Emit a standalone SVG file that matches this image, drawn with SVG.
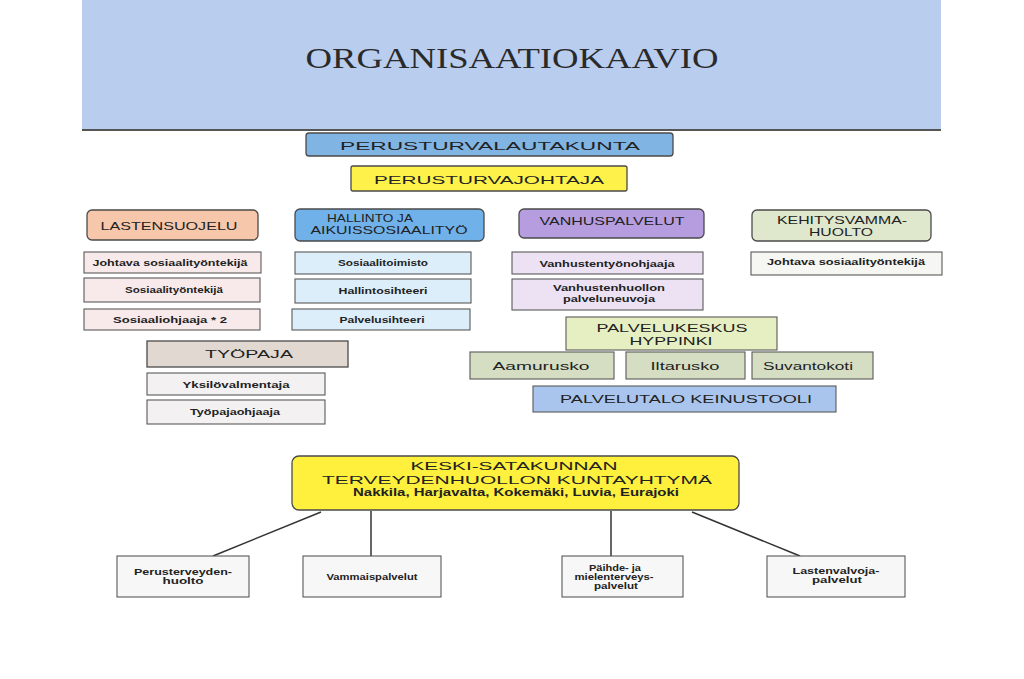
<svg xmlns="http://www.w3.org/2000/svg" width="1024" height="679" viewBox="0 0 1024 679">
<style>
  text { font-family: "Liberation Sans", Arial, sans-serif; fill: #222; text-anchor: middle; }
  .title { font-family: "Liberation Serif", "DejaVu Serif", serif; font-size: 30px; fill: #2a2a2a; }
  .h { font-size: 11.5px; }
  .s { font-size: 8.5px; font-weight: bold; }
  .b { stroke: #4a4a4a; stroke-width: 1.3; }
  .sub { stroke: #5a5a5a; stroke-width: 1.1; }
  .line { stroke: #333; stroke-width: 1.5; fill: none; }
</style>
<rect width="1024" height="679" fill="#ffffff"/>
<g id="banner">
  <rect x="82" y="0" width="859" height="130" fill="#b9cdef"/>
  <line x1="82" y1="130" x2="941" y2="130" stroke="#555" stroke-width="2"/>
  <text class="title" x="512" y="68" textLength="413" lengthAdjust="spacingAndGlyphs">ORGANISAATIOKAAVIO</text>
</g>
<g id="connectors">
  <line class="line" x1="321" y1="512" x2="213" y2="556"/>
  <line class="line" x1="371" y1="511" x2="371" y2="556"/>
  <line class="line" x1="611" y1="511" x2="611" y2="556"/>
  <line class="line" x1="692" y1="512" x2="800" y2="556"/>
</g>
<g id="perusturvalautakunta">
  <rect class="b" x="306" y="133" width="367" height="23" rx="3" fill="#80b4e2"/>
  <text class="h" x="490" y="150" textLength="300" lengthAdjust="spacingAndGlyphs">PERUSTURVALAUTAKUNTA</text>
</g>
<g id="perusturvajohtaja">
  <rect class="b" x="351" y="166" width="276" height="25" rx="2" fill="#fef24a"/>
  <text class="h" x="489" y="184" textLength="230" lengthAdjust="spacingAndGlyphs">PERUSTURVAJOHTAJA</text>
</g>
<g id="lastensuojelu">
  <rect class="b" x="87" y="210" width="171" height="30" rx="5" fill="#f6c7ab"/>
  <text class="h" x="169" y="230" textLength="137" lengthAdjust="spacingAndGlyphs">LASTENSUOJELU</text>
</g>
<g id="hallinto">
  <rect class="b" x="295" y="209" width="189" height="32" rx="5" fill="#70b1e9"/>
  <text class="h" x="370" y="222" textLength="86" lengthAdjust="spacingAndGlyphs">HALLINTO JA</text>
  <text class="h" x="389" y="234" textLength="157" lengthAdjust="spacingAndGlyphs">AIKUISSOSIAALITYÖ</text>
</g>
<g id="vanhuspalvelut">
  <rect class="b" x="519" y="209" width="185" height="29" rx="5" fill="#b69de0"/>
  <text class="h" x="612" y="225" textLength="145" lengthAdjust="spacingAndGlyphs">VANHUSPALVELUT</text>
</g>
<g id="kehitysvammahuolto">
  <rect class="b" x="752" y="210" width="179" height="31" rx="5" fill="#dfe8cd"/>
  <text class="h" x="842" y="224" textLength="130" lengthAdjust="spacingAndGlyphs">KEHITYSVAMMA-</text>
  <text class="h" x="841" y="236" textLength="64" lengthAdjust="spacingAndGlyphs">HUOLTO</text>
</g>
<g id="ls-johtava">
  <rect class="sub" x="84" y="252" width="177" height="21" fill="#f8eaea"/>
  <text class="s" x="170" y="266" textLength="155" lengthAdjust="spacingAndGlyphs">Johtava sosiaalityöntekijä</text>
</g>
<g id="ls-sosiaalityontekija">
  <rect class="sub" x="84" y="278" width="176" height="24" fill="#f8eaea"/>
  <text class="s" x="174" y="293" textLength="98" lengthAdjust="spacingAndGlyphs">Sosiaalityöntekijä</text>
</g>
<g id="ls-sosiaaliohjaaja">
  <rect class="sub" x="84" y="309" width="176" height="21" fill="#f8eaea"/>
  <text class="s" x="170" y="323" textLength="114" lengthAdjust="spacingAndGlyphs">Sosiaaliohjaaja * 2</text>
</g>
<g id="ha-sosiaalitoimisto">
  <rect class="sub" x="295" y="252" width="176" height="22" fill="#dceefa"/>
  <text class="s" x="383" y="266" textLength="90" lengthAdjust="spacingAndGlyphs">Sosiaalitoimisto</text>
</g>
<g id="ha-hallintosihteeri">
  <rect class="sub" x="295" y="279" width="176" height="24" fill="#dceefa"/>
  <text class="s" x="383" y="294" textLength="89" lengthAdjust="spacingAndGlyphs">Hallintosihteeri</text>
</g>
<g id="ha-palvelusihteeri">
  <rect class="sub" x="292" y="309" width="178" height="21" fill="#dceefa"/>
  <text class="s" x="382" y="323" textLength="85" lengthAdjust="spacingAndGlyphs">Palvelusihteeri</text>
</g>
<g id="vp-ohjaaja">
  <rect class="sub" x="512" y="252" width="191" height="22" fill="#ece2f4"/>
  <text class="s" x="607" y="267" textLength="135" lengthAdjust="spacingAndGlyphs">Vanhustentyönohjaaja</text>
</g>
<g id="vp-palveluneuvoja">
  <rect class="sub" x="512" y="279" width="191" height="31" fill="#ece2f4"/>
  <text class="s" x="609" y="291" textLength="112" lengthAdjust="spacingAndGlyphs">Vanhustenhuollon</text>
  <text class="s" x="609" y="302" textLength="92" lengthAdjust="spacingAndGlyphs">palveluneuvoja</text>
</g>
<g id="kv-johtava">
  <rect class="sub" x="751" y="252" width="191" height="23" fill="#f6f6f3"/>
  <text class="s" x="846" y="265" textLength="158" lengthAdjust="spacingAndGlyphs">Johtava sosiaalityöntekijä</text>
</g>
<g id="palvelukeskus">
  <rect class="sub" x="566" y="317" width="211" height="33" fill="#e6efc2"/>
  <text class="h" x="672" y="332" textLength="151" lengthAdjust="spacingAndGlyphs">PALVELUKESKUS</text>
  <text class="h" x="671" y="345" textLength="83" lengthAdjust="spacingAndGlyphs">HYPPINKI</text>
</g>
<g id="aamurusko">
  <rect class="sub" x="470" y="352" width="144" height="27" fill="#d5ddc3" stroke="#5b7ea8"/>
  <text class="h" x="541" y="370" textLength="97" lengthAdjust="spacingAndGlyphs">Aamurusko</text>
</g>
<g id="iltarusko">
  <rect class="sub" x="626" y="352" width="119" height="27" fill="#d5ddc3" stroke="#5b7ea8"/>
  <text class="h" x="685" y="370" textLength="69" lengthAdjust="spacingAndGlyphs">Iltarusko</text>
</g>
<g id="suvantokoti">
  <rect class="sub" x="752" y="352" width="121" height="27" fill="#d5ddc3" stroke="#5b7ea8"/>
  <text class="s" x="808" y="370" textLength="90" lengthAdjust="spacingAndGlyphs" style="font-weight:normal;font-size:10px">Suvantokoti</text>
</g>
<g id="keinustooli">
  <rect class="sub" x="533" y="386" width="303" height="26" fill="#a9c5ed"/>
  <text class="h" x="686" y="403" textLength="252" lengthAdjust="spacingAndGlyphs">PALVELUTALO KEINUSTOOLI</text>
</g>
<g id="tyopaja">
  <rect class="b" x="147" y="341" width="201" height="26" fill="#e1d9d1"/>
  <text class="h" x="249" y="358" textLength="88" lengthAdjust="spacingAndGlyphs">TYÖPAJA</text>
</g>
<g id="yksilovalmentaja">
  <rect class="sub" x="147" y="373" width="178" height="22" fill="#f3f1f2"/>
  <text class="s" x="236" y="388" textLength="107" lengthAdjust="spacingAndGlyphs">Yksilövalmentaja</text>
</g>
<g id="tyopajaohjaaja">
  <rect class="sub" x="147" y="400" width="178" height="24" fill="#f3f1f2"/>
  <text class="s" x="235" y="415" textLength="90" lengthAdjust="spacingAndGlyphs">Työpajaohjaaja</text>
</g>
<g id="kuntayhtyma">
  <rect class="b" x="292" y="456" width="447" height="54" rx="7" fill="#fef03d"/>
  <text class="h" x="514" y="470" textLength="207" lengthAdjust="spacingAndGlyphs">KESKI-SATAKUNNAN</text>
  <text class="h" x="517" y="484" textLength="390" lengthAdjust="spacingAndGlyphs">TERVEYDENHUOLLON KUNTAYHTYMÄ</text>
  <text class="s" x="516" y="496" textLength="326" lengthAdjust="spacingAndGlyphs" style="font-size:10px">Nakkila, Harjavalta, Kokemäki, Luvia, Eurajoki</text>
</g>
<g id="perusterveydenhuolto">
  <rect class="sub" x="117" y="556" width="132" height="41" fill="#f7f7f7"/>
  <text class="s" x="183" y="575" textLength="98" lengthAdjust="spacingAndGlyphs">Perusterveyden-</text>
  <text class="s" x="183" y="584" textLength="41" lengthAdjust="spacingAndGlyphs">huolto</text>
</g>
<g id="vammaispalvelut">
  <rect class="sub" x="303" y="556" width="138" height="41" fill="#f7f7f7"/>
  <text class="s" x="372" y="580" textLength="91" lengthAdjust="spacingAndGlyphs">Vammaispalvelut</text>
</g>
<g id="paihdepalvelut">
  <rect class="sub" x="562" y="556" width="121" height="41" fill="#f7f7f7"/>
  <text class="s" x="615" y="571" textLength="52" lengthAdjust="spacingAndGlyphs">Päihde- ja</text>
  <text class="s" x="614" y="580" textLength="79" lengthAdjust="spacingAndGlyphs">mielenterveys-</text>
  <text class="s" x="616" y="589" textLength="44" lengthAdjust="spacingAndGlyphs">palvelut</text>
</g>
<g id="lastenvalvojapalvelut">
  <rect class="sub" x="767" y="556" width="138" height="41" fill="#f7f7f7"/>
  <text class="s" x="836" y="574" textLength="87" lengthAdjust="spacingAndGlyphs">Lastenvalvoja-</text>
  <text class="s" x="837" y="583" textLength="50" lengthAdjust="spacingAndGlyphs">palvelut</text>
</g>
</svg>
